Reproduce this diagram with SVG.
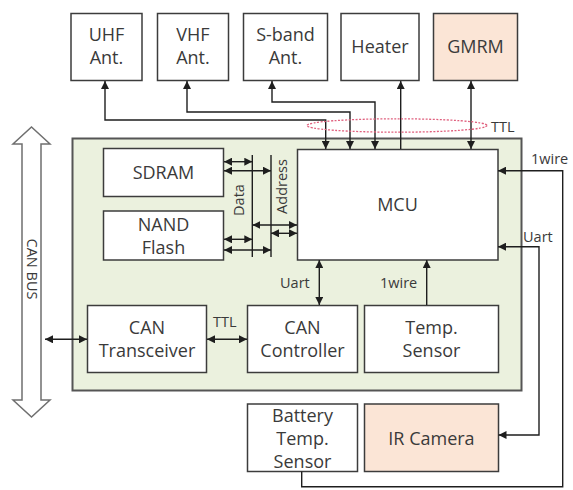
<svg xmlns="http://www.w3.org/2000/svg" width="573" height="490" viewBox="0 0 573 490">
<defs>
<style>
.box{fill:#ffffff;stroke:#3c3c3c;stroke-width:1.5}
.peach{fill:#fbe5d6}
.t{font-family:"Open Sans","Noto Sans",sans-serif;font-size:18px;fill:#3a3a3a;text-anchor:middle;dominant-baseline:central}
.s{font-family:"Open Sans","Noto Sans",sans-serif;font-size:14.5px;fill:#3a3a3a;dominant-baseline:central}
.ln{fill:none;stroke:#1e1e1e;stroke-width:1.4}
.a2{marker-start:url(#ah);marker-end:url(#ah)}
.a1{marker-end:url(#ah)}
.a0{marker-start:url(#ah)}
</style>
<marker id="ah" viewBox="0 0 10 10" refX="10" refY="5" markerWidth="8" markerHeight="8" markerUnits="userSpaceOnUse" orient="auto-start-reverse">
<path d="M0,0 L10,5 L0,10 z" fill="#1e1e1e"/>
</marker>
</defs>
<rect width="573" height="490" fill="#ffffff"/>

<g id="board">
<rect x="72.5" y="138.5" width="449" height="252" fill="#ebf1de" stroke="#555555" stroke-width="2"/>
</g>

<g id="can-bus">
<polygon points="31.5,127 50,144 41,144 41,400 50,400 31.5,417 13,400 22,400 22,144 13,144" fill="#ffffff" stroke="#6f6f6f" stroke-width="1.5"/>
<text class="s" x="32" y="269" text-anchor="middle" font-size="14.5" transform="rotate(90 32 269)">CAN BUS</text>
</g>

<g id="uhf"><rect class="box" x="71" y="13.5" width="71" height="67"/><text class="t" x="106.5" y="34">UHF</text><text class="t" x="106.5" y="57">Ant.</text></g>
<g id="vhf"><rect class="box" x="157.5" y="13.5" width="71" height="67"/><text class="t" x="193" y="34">VHF</text><text class="t" x="193" y="57">Ant.</text></g>
<g id="sband"><rect class="box" x="243.5" y="13.5" width="84" height="67"/><text class="t" x="285.5" y="34">S-band</text><text class="t" x="285.5" y="57">Ant.</text></g>
<g id="heater"><rect class="box" x="341" y="13.5" width="78" height="67"/><text class="t" x="380" y="46">Heater</text></g>
<g id="gmrm"><rect class="box peach" x="433.5" y="13.5" width="84" height="67"/><text class="t" x="475.5" y="46">GMRM</text></g>

<g id="sdram"><rect class="box" x="103.5" y="148.5" width="120" height="48"/><text class="t" x="163.5" y="172">SDRAM</text></g>
<g id="nand"><rect class="box" x="103.5" y="211" width="120" height="49"/><text class="t" x="163.5" y="224">NAND</text><text class="t" x="163.5" y="247">Flash</text></g>
<g id="mcu"><rect class="box" x="297.5" y="149.5" width="200.5" height="110.5"/><text class="t" x="397.5" y="204">MCU</text></g>

<g id="can-transceiver"><rect class="box" x="87.5" y="305.5" width="119" height="67"/><text class="t" x="147" y="327">CAN</text><text class="t" x="147" y="350">Transceiver</text></g>
<g id="can-controller"><rect class="box" x="247.5" y="305.5" width="110" height="67"/><text class="t" x="302.5" y="327">CAN</text><text class="t" x="302.5" y="350">Controller</text></g>
<g id="temp-sensor"><rect class="box" x="364.5" y="305.5" width="134" height="67"/><text class="t" x="431.5" y="327">Temp.</text><text class="t" x="431.5" y="350">Sensor</text></g>

<g id="battery-temp"><rect class="box" x="247.5" y="404" width="110" height="67.5"/><text class="t" x="302.5" y="414.5">Battery</text><text class="t" x="302.5" y="437.5">Temp.</text><text class="t" x="302.5" y="460.5">Sensor</text></g>
<g id="ir-camera"><rect class="box peach" x="364.5" y="404" width="134" height="67.5"/><text class="t" x="431.5" y="437.5">IR Camera</text></g>

<g id="connectors">
<path class="ln a2" d="M105,81 V120 H325.7 V149"/>
<path class="ln a2" d="M187,81 V112 H350 V149"/>
<path class="ln a2" d="M272,81 V102 H375 V149"/>
<path class="ln a1" d="M400.7,149 V81"/>
<path class="ln a2" d="M471,81 V149"/>
<ellipse cx="397" cy="125.5" rx="90" ry="6.7" fill="none" stroke="#e0607e" stroke-width="1.3" stroke-dasharray="2 1.5"/>
<text class="s" x="491" y="126">TTL</text>

<line class="ln" x1="252.3" y1="155" x2="252.3" y2="257"/>
<line class="ln" x1="271" y1="155" x2="271" y2="257"/>
<path class="ln a2" d="M224,161.7 H252.3"/>
<path class="ln a2" d="M224,170.7 H271"/>
<path class="ln a2" d="M224,239.3 H252.3"/>
<path class="ln a2" d="M224,250 H271"/>
<path class="ln a2" d="M252.3,225 H297"/>
<path class="ln a2" d="M271,233.3 H297"/>
<text class="s" x="238.5" y="200" text-anchor="middle" font-size="14" transform="rotate(-90 238.5 200)">Data</text>
<text class="s" x="281" y="186.5" text-anchor="middle" font-size="14" transform="rotate(-90 281 186.5)">Address</text>

<path class="ln a0" d="M498,170.7 H562.7 V486.7 H301.7 V471.5"/>
<text class="s" x="531" y="158">1wire</text>
<path class="ln a2" d="M498,246.7 H539 V435 H498.5"/>
<text class="s" x="523" y="236">Uart</text>

<path class="ln a2" d="M319.3,260 V305"/>
<text class="s" x="280" y="282">Uart</text>
<path class="ln a1" d="M426.7,305 V260"/>
<text class="s" x="380" y="282">1wire</text>

<path class="ln a2" d="M45,339.3 H87"/>
<path class="ln a2" d="M207,339.3 H247"/>
<text class="s" x="213" y="321.5">TTL</text>
</g>
</svg>
